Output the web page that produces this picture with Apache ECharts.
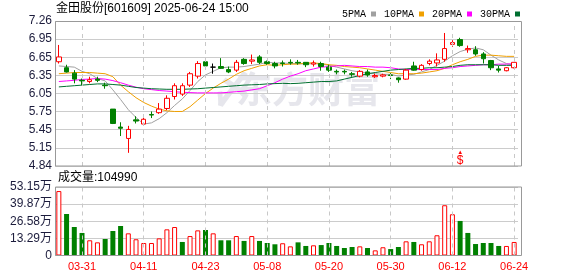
<!DOCTYPE html>
<html><head><meta charset="utf-8">
<script src="https://cdn.jsdelivr.net/npm/echarts/dist/echarts.min.js"></script>
<style>html,body{margin:0;padding:0;background:#fff}#c{width:578px;height:276px}</style>
</head><body><div id="c"></div>
<script>
const dates = ['03-26','03-27','03-28','03-31','04-01','04-02','04-03','04-07','04-08','04-09',
 '04-10','04-11','04-14','04-15','04-16','04-17','04-18','04-21','04-22','04-23',
 '04-24','04-25','04-28','04-29','04-30','05-06','05-07','05-08','05-09','05-12',
 '05-13','05-14','05-15','05-16','05-19','05-20','05-21','05-22','05-23','05-26',
 '05-27','05-28','05-29','05-30','06-03','06-04','06-05','06-06','06-09','06-10',
 '06-11','06-12','06-13','06-16','06-17','06-18','06-19','06-20','06-23','06-24'];
const opens = [6.58,6.48,6.39,6.27,6.25,6.29,6.19,5.79,5.49,5.30,
 5.61,5.54,5.70,5.73,5.80,6.00,6.04,6.19,6.34,6.58,
 6.49,6.50,6.45,6.44,6.62,6.59,6.66,6.58,6.55,6.56,
 6.57,6.57,6.57,6.54,6.55,6.49,6.42,6.42,6.38,6.34,
 6.41,6.33,6.34,6.36,6.31,6.29,6.51,6.45,6.55,6.56,
 6.62,6.87,6.95,6.78,6.78,6.71,6.60,6.46,6.43,6.48];
const closes = [6.66,6.41,6.29,6.26,6.28,6.27,6.18,5.55,5.47,5.45,
 5.59,5.62,5.69,5.79,5.97,6.18,6.18,6.38,6.55,6.51,
 6.49,6.47,6.41,6.57,6.55,6.61,6.57,6.55,6.51,6.55,
 6.56,6.56,6.53,6.56,6.50,6.44,6.41,6.41,6.37,6.42,
 6.36,6.35,6.36,6.35,6.28,6.44,6.44,6.52,6.59,6.61,
 6.80,6.90,6.85,6.80,6.71,6.63,6.48,6.44,6.48,6.57];
const lows = [6.55,6.40,6.22,6.19,6.22,6.24,6.13,5.54,5.34,5.06,
 5.55,5.52,5.64,5.71,5.77,5.95,6.01,6.16,6.30,6.47,
 6.38,6.46,6.39,6.41,6.53,6.54,6.54,6.53,6.47,6.50,
 6.53,6.53,6.49,6.50,6.43,6.41,6.37,6.37,6.33,6.32,
 6.33,6.31,6.32,6.29,6.23,6.28,6.43,6.43,6.52,6.50,
 6.58,6.83,6.83,6.73,6.68,6.55,6.44,6.40,6.42,6.47];
const highs = [6.86,6.53,6.44,6.30,6.33,6.33,6.23,5.79,5.57,5.51,
 5.67,5.67,5.75,5.89,6.02,6.22,6.22,6.41,6.59,6.64,
 6.55,6.64,6.50,6.61,6.64,6.70,6.69,6.60,6.58,6.60,
 6.62,6.61,6.57,6.60,6.58,6.53,6.45,6.45,6.41,6.44,
 6.45,6.38,6.38,6.39,6.32,6.46,6.58,6.54,6.62,6.72,
 7.06,6.94,6.98,6.85,6.84,6.74,6.61,6.51,6.49,6.57];
const volumes = [500000,322000,221000,175000,118000,102000,128000,190000,229000,172000,
 126000,97000,97000,133000,203000,221000,105000,151000,195000,198000,
 172000,118000,118000,151000,113000,151000,113000,97000,87000,95000,
 71000,102000,74000,79000,81000,97000,74000,58000,66000,71000,
 58000,40000,64000,50000,66000,110000,105000,87000,110000,157000,
 390000,320000,268000,175000,89000,97000,97000,74000,74000,104990];
const volDir = [1,-1,-1,-1,1,1,-1,-1,-1,1,
 1,1,1,1,1,1,-1,1,1,-1,
 1,-1,-1,1,-1,1,-1,-1,-1,1,
 1,-1,-1,1,-1,-1,-1,-1,-1,1,
 -1,1,1,-1,-1,1,-1,1,1,1,
 1,1,-1,-1,-1,-1,-1,-1,1,1];
const ma5 = [6.51,6.50,6.49,6.42,6.38,6.30,6.26,6.11,5.95,5.78,
 5.65,5.54,5.56,5.63,5.73,5.85,5.96,6.10,6.25,6.36,
 6.42,6.48,6.49,6.49,6.50,6.52,6.54,6.57,6.56,6.56,
 6.55,6.55,6.54,6.55,6.54,6.52,6.49,6.46,6.43,6.41,
 6.39,6.38,6.37,6.37,6.34,6.36,6.37,6.41,6.45,6.52,
 6.59,6.68,6.75,6.79,6.81,6.78,6.69,6.61,6.55,6.52];
const ma10 = [6.38,6.39,6.40,6.40,6.40,6.39,6.38,6.33,6.19,6.08,
 5.98,5.90,5.84,5.79,5.76,5.75,5.75,5.83,5.94,6.05,
 6.14,6.22,6.29,6.37,6.43,6.47,6.51,6.53,6.52,6.53,
 6.54,6.54,6.56,6.56,6.55,6.53,6.52,6.50,6.49,6.48,
 6.46,6.44,6.42,6.40,6.38,6.38,6.38,6.39,6.41,6.43,
 6.47,6.53,6.58,6.62,6.67,6.69,6.69,6.68,6.67,6.67];
const ma20 = [6.25,6.26,6.27,6.285,6.29,6.30,6.29,6.265,6.23,6.19,
 6.155,6.13,6.115,6.10,6.09,6.08,6.07,6.065,6.06,6.06,
 6.06,6.06,6.07,6.08,6.09,6.11,6.13,6.18,6.23,6.29,
 6.34,6.38,6.43,6.46,6.49,6.50,6.51,6.52,6.51,6.50,
 6.50,6.49,6.49,6.48,6.46,6.45,6.45,6.45,6.45,6.45,
 6.47,6.48,6.50,6.51,6.52,6.53,6.53,6.54,6.54,6.55];
const ma30 = [6.16,6.17,6.18,6.19,6.20,6.21,6.21,6.20,6.19,6.17,
 6.15,6.14,6.13,6.125,6.12,6.12,6.12,6.125,6.13,6.14,
 6.15,6.16,6.17,6.18,6.19,6.195,6.20,6.21,6.215,6.22,
 6.215,6.22,6.23,6.24,6.25,6.25,6.26,6.29,6.32,6.35,
 6.38,6.40,6.42,6.44,6.45,6.46,6.47,6.47,6.48,6.48,
 6.49,6.50,6.52,6.53,6.53,6.53,6.53,6.52,6.52,6.52];
const priceTicks = ['4.84','5.15','5.45','5.75','6.05','6.35','6.65','6.95','7.26'];
const volTicks = ['0','13.29万','26.58万','39.87万','53.15万'];
const gridDates = ['03-31','04-11','04-23','05-08','05-20','05-30','06-12','06-24'];
const signalDates = ['06-13'];
const signalLevel = 4.975;

const chart = echarts.init(document.getElementById('c'), null, {renderer: 'canvas'});
const FONT = '"Liberation Sans", "Noto Sans CJK SC", sans-serif';
const RED = '#ff0000', GREEN = '#008000';
const priceMin = 4.84, priceMax = 7.26, priceStep = 0.3025;
const volMax = 531500, volStep = 132875;

const candleData = dates.map((d, i) => [opens[i], closes[i], lows[i], highs[i]]);
const volData = volumes.map((v, i) => ({
  value: v,
  itemStyle: volDir[i] > 0 ? {color: '#ffffff', borderColor: RED, borderWidth: 1}
                           : {color: GREEN, borderColor: GREEN, borderWidth: 0}
}));
const vLines = {
  silent: true, symbol: ['none', 'none'], animation: false,
  label: {show: false},
  lineStyle: {color: '#c8c8c8', type: [4, 4], width: 1},
  emphasis: {disabled: true},
  data: gridDates.map(d => ({xAxis: d}))
};
function maSeries(name, data, color) {
  return {name, type: 'line', data, xAxisIndex: 0, yAxisIndex: 0, color,
    symbol: 'none', smooth: false, lineStyle: {width: 1, color}, z: 3, animation: false};
}

chart.setOption({
  animation: false,
  textStyle: {fontFamily: FONT},
  grid: [
    {left: 55, top: 21, width: 463, height: 145, outerBoundsMode: 'none', containLabel: false},
    {left: 55, top: 187, width: 463, height: 68.5, outerBoundsMode: 'none', containLabel: false}
  ],
  legend: {
    left: 337, top: 4, align: 'right', icon: 'rect', itemWidth: 5, itemHeight: 5, itemGap: 8,
    textStyle: {fontFamily: '"Liberation Mono", monospace', fontSize: 10, color: '#000'},
    data: ['5PMA', '10PMA', '20PMA', '30PMA'], selectedMode: false
  },
  xAxis: [
    {type: 'category', gridIndex: 0, data: dates, boundaryGap: true,
     axisLine: {show: false}, axisTick: {show: false}, axisLabel: {show: false}, splitLine: {show: false}},
    {type: 'category', gridIndex: 1, data: dates, boundaryGap: true,
     axisLine: {show: false}, axisTick: {show: false}, splitLine: {show: false},
     axisLabel: {show: true, color: RED, fontSize: 11, margin: 6,
       interval: (idx) => gridDates.indexOf(dates[idx]) >= 0}}
  ],
  yAxis: [
    {type: 'value', gridIndex: 0, min: priceMin, max: priceMax, interval: priceStep, scale: true,
     axisLine: {show: false}, axisTick: {show: false},
     splitLine: {show: true, lineStyle: {color: '#cccccc', width: 1}},
     axisLabel: {color: '#1c1c3c', fontSize: 12, margin: 3,
       formatter: v => priceTicks[Math.round((v - priceMin) / priceStep)] || ''}},
    {type: 'value', gridIndex: 1, min: 0, max: volMax, interval: volStep,
     axisLine: {show: false}, axisTick: {show: false},
     splitLine: {show: true, lineStyle: {color: '#cccccc', width: 1}},
     axisLabel: {color: '#1c1c3c', fontSize: 12, margin: 3,
       formatter: v => volTicks[Math.round(v / volStep)] || ''}}
  ],
  graphic: [
    {type: 'text', left: 56, top: 3, z: 10, style: {text: '金田股份[601609] 2025-06-24 15:00', font: '12px ' + FONT, fill: '#000'}},
    {type: 'text', left: 58, top: 172, z: 10, style: {text: '成交量:104990', font: '12px ' + FONT, fill: '#000'}},
    {type: 'text', left: 236, top: 71, z: 0, silent: true,
     style: {text: '东方财富', font: 'bold 36px "Noto Sans CJK SC", sans-serif', fill: '#e6e6ec'}},
    {type: 'text', left: 212, top: 68, z: 0, silent: true,
     style: {text: '〆', font: 'bold 40px "Noto Sans CJK SC", sans-serif', fill: '#e6e6ec'}},
    {type: 'rect', z: 20, silent: true, shape: {x: 55.5, y: 21.5, width: 466, height: 144.5},
     style: {fill: 'none', stroke: '#999999', lineWidth: 1}},
    {type: 'rect', z: 20, silent: true, shape: {x: 55.5, y: 187, width: 466, height: 68.5},
     style: {fill: 'none', stroke: '#999999', lineWidth: 1}}
  ],
  series: [
    {name: 'K', type: 'candlestick', xAxisIndex: 0, yAxisIndex: 0, data: candleData, barWidth: 5, z: 4,
     itemStyle: {color: '#ffffff', color0: GREEN, borderColor: RED, borderColor0: GREEN,
                 borderColorDoji: '#000000', borderWidth: 1},
     markLine: vLines,
     markPoint: {
       symbol: 'circle', symbolSize: 1, itemStyle: {color: 'rgba(0,0,0,0)'}, animation: false, silent: true,
       label: {show: true, position: 'inside', formatter: '{a|▲}\n{b|$}',
         rich: {a: {fontSize: 6, color: RED, lineHeight: 5, align: 'center'},
                b: {fontSize: 12, color: RED, lineHeight: 11, align: 'center', fontFamily: FONT}}},
       data: signalDates.map(d => ({coord: [d, signalLevel]}))
     }},
    maSeries('5PMA', ma5, '#a0a0a0'),
    maSeries('10PMA', ma10, '#f0a000'),
    maSeries('20PMA', ma20, '#ff00ff'),
    maSeries('30PMA', ma30, '#006f30'),
    {name: 'VOL', type: 'bar', xAxisIndex: 1, yAxisIndex: 1, data: volData, barWidth: 5, z: 4,
     markLine: vLines}
  ]
});
</script></body></html>
